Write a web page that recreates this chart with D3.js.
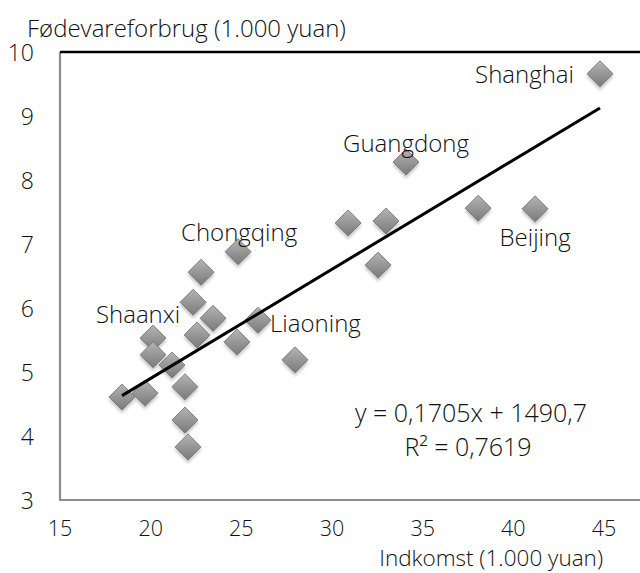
<!DOCTYPE html>
<html>
<head>
<meta charset="utf-8">
<script src="https://cdn.jsdelivr.net/npm/d3@7"></script>
<style>
  html, body { margin: 0; padding: 0; background: #fff; }
  svg { display: block; }
  text { font-family: "Open Sans", "Noto Sans", sans-serif; fill: #111; font-weight: 300; }
</style>
</head>
<body>
<svg id="chart" width="640" height="573"></svg>
<script>
// ---- data (1.000 yuan) ----
const income = [44.78, 34.08, 30.89, 32.98, 38.06, 41.20, 32.54, 24.82, 22.78, 22.34, 23.44, 22.56,
                20.13, 25.92, 24.76, 27.96, 20.13, 21.18, 19.69, 18.42, 21.89, 21.89, 22.06];
const food   = [9.66, 8.28, 7.33, 7.36, 7.56, 7.55, 6.67, 6.88, 6.56, 6.09, 5.84, 5.58,
                5.53, 5.81, 5.47, 5.19, 5.27, 5.11, 4.67, 4.61, 4.77, 4.25, 3.83];
const names  = ["Shanghai", "Guangdong", "", "", "", "Beijing", "", "Chongqing", "", "", "", "",
                "Shaanxi", "Liaoning", "", "", "", "", "", "", "", "", ""];
const xTicks = [15, 20, 25, 30, 35, 40, 45];
const yTicks = [3, 4, 5, 6, 7, 8, 9, 10];
const slope = 0.1705, intercept = 1490.7; // yuan units
const eqText = "y = 0,1705x + 1490,7";
const r2Text = "R² = 0,7619";
const yTitle = "Fødevareforbrug (1.000 yuan)";
const xTitle = "Indkomst (1.000 yuan)";

// ---- layout ----
const svg = d3.select("#chart");
const pLeft = 60, pTop = 52, pBottom = 500, pRight = 640;
const x = d3.scaleLinear().domain([15, 45]).range([60, 604]);
const y = d3.scaleLinear().domain([3, 10]).range([pBottom, pTop]);

const defs = svg.append("defs");
const grad = defs.append("linearGradient").attr("id", "dg")
  .attr("x1", 0).attr("y1", 0).attr("x2", 0).attr("y2", 1);
grad.append("stop").attr("offset", "0%").attr("stop-color", "#b4b4b4");
grad.append("stop").attr("offset", "100%").attr("stop-color", "#7a7a7a");
const f = defs.append("filter").attr("id", "sh").attr("x", "-50%").attr("y", "-50%")
  .attr("width", "200%").attr("height", "200%");
f.append("feDropShadow").attr("dx", 0).attr("dy", 3).attr("stdDeviation", 1.5)
  .attr("flood-color", "#999").attr("flood-opacity", 0.55);

// frame
svg.append("line").attr("x1", pLeft).attr("x2", pLeft).attr("y1", pTop).attr("y2", pBottom)
  .attr("stroke", "#8c8c8c").attr("stroke-width", 2.2);
svg.append("line").attr("x1", pLeft - 1).attr("x2", pRight).attr("y1", pBottom).attr("y2", pBottom)
  .attr("stroke", "#8c8c8c").attr("stroke-width", 2.2);
svg.append("line").attr("x1", pLeft).attr("x2", pRight).attr("y1", pTop).attr("y2", pTop)
  .attr("stroke", "#000").attr("stroke-width", 2.5);

// y tick labels
svg.append("g").selectAll("text").data(yTicks).join("text")
  .attr("x", 34).attr("y", d => y(d)).attr("text-anchor", "end")
  .attr("dominant-baseline", "central").style("font-size", "23px").text(d => d);
// x tick labels
svg.append("g").selectAll("text").data(xTicks).join("text")
  .attr("x", d => x(d)).attr("y", 527).attr("text-anchor", "middle")
  .attr("dominant-baseline", "central").style("font-size", "21.5px").text(d => d);

// titles
svg.append("text").attr("x", 27).attr("y", 27).attr("dominant-baseline", "central")
  .style("font-size", "24px").text(yTitle);
svg.append("text").attr("x", 603).attr("y", 557.5).attr("text-anchor", "end")
  .attr("dominant-baseline", "central").style("font-size", "22.5px").text(xTitle);

// points
const pts = income.map((v, i) => ({ x: v, y: food[i], name: names[i] }));
const r = 13;
const diamond = d => {
  const cx = x(d.x), cy = y(d.y);
  return `M${cx},${cy - r}L${cx + r},${cy}L${cx},${cy + r}L${cx - r},${cy}Z`;
};
svg.append("g").selectAll("path").data(pts).join("path")
  .attr("d", diamond).attr("fill", "url(#dg)").attr("stroke", "#6f6f6f")
  .attr("stroke-width", 0.8).attr("filter", "url(#sh)");

// trendline
const xmin = d3.min(income), xmax = d3.max(income);
const fit = v => (slope * v * 1000 + intercept) / 1000;
svg.append("line").attr("x1", x(xmin)).attr("y1", y(fit(xmin)))
  .attr("x2", x(xmax)).attr("y2", y(fit(xmax)))
  .attr("stroke", "#000").attr("stroke-width", 3);

// labels
const labelPos = {
  "Shanghai":  { dx: -26, dy: 0, anchor: "end" },
  "Guangdong": { dx: 0, dy: -20, anchor: "middle" },
  "Beijing":   { dx: 0, dy: 28, anchor: "middle" },
  "Chongqing": { dx: 1, dy: -20, anchor: "middle" },
  "Shaanxi":   { dx: -15, dy: -25, anchor: "middle" },
  "Liaoning":  { dx: 12, dy: 2, anchor: "start" }
};
svg.append("g").selectAll("text").data(pts.filter(p => p.name)).join("text")
  .attr("x", d => x(d.x) + labelPos[d.name].dx)
  .attr("y", d => y(d.y) + labelPos[d.name].dy)
  .attr("text-anchor", d => labelPos[d.name].anchor)
  .attr("dominant-baseline", "central").style("font-size", "24px").text(d => d.name);

// equation
svg.append("text").attr("x", 471).attr("y", 412).attr("text-anchor", "middle")
  .attr("dominant-baseline", "central").style("font-size", "25px").text(eqText);
svg.append("text").attr("x", 468).attr("y", 446).attr("text-anchor", "middle")
  .attr("dominant-baseline", "central").style("font-size", "25px").text(r2Text);
</script>
</body>
</html>
